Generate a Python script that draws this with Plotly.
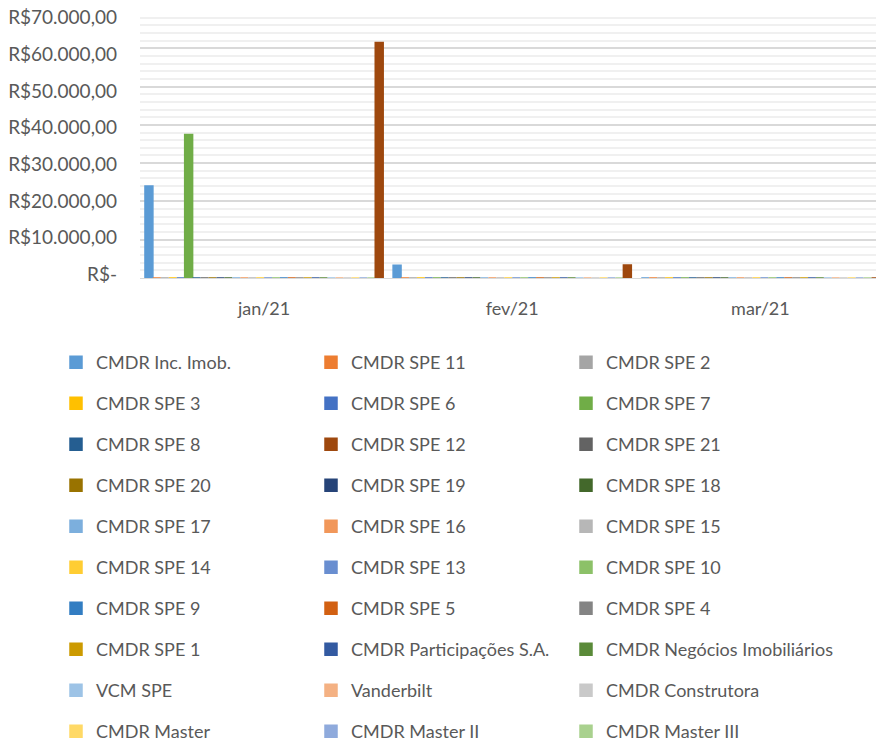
import plotly.graph_objects as go

months = ["jan/21", "fev/21", "mar/21"]

series_names = [
    "CMDR Inc. Imob.", "CMDR SPE 11", "CMDR SPE 2",
    "CMDR SPE 3", "CMDR SPE 6", "CMDR SPE 7",
    "CMDR SPE 8", "CMDR SPE 12", "CMDR SPE 21",
    "CMDR SPE 20", "CMDR SPE 19", "CMDR SPE 18",
    "CMDR SPE 17", "CMDR SPE 16", "CMDR SPE 15",
    "CMDR SPE 14", "CMDR SPE 13", "CMDR SPE 10",
    "CMDR SPE 9", "CMDR SPE 5", "CMDR SPE 4",
    "CMDR SPE 1", "CMDR Participações S.A.", "CMDR Negócios Imobiliários",
    "VCM SPE", "Vanderbilt", "CMDR Construtora",
    "CMDR Master", "CMDR Master II", "CMDR Master III",
]

# values (R$), per month
inc_imob = [24000, 3300, 0]
spe_7 = [37500, 0, 0]
spe_12 = [61500, 3400, 0]
zero_series = [0, 0, 0]

series_values = {name: zero_series for name in series_names}
series_values["CMDR Inc. Imob."] = inc_imob
series_values["CMDR SPE 7"] = spe_7
series_values["CMDR SPE 12"] = spe_12

colors = [
    "#5B9BD5", "#ED7D31", "#A5A5A5", "#FFC000", "#4472C4", "#70AD47",
    "#255E91", "#9E480E", "#636363", "#997300", "#264478", "#43682B",
    "#7CAFDD", "#F1975A", "#B7B7B7", "#FFCD33", "#698ED0", "#8CC168",
    "#327DC2", "#D26012", "#848484", "#CC9A00", "#335AA1", "#5A8A39",
    "#9DC3E6", "#F4B183", "#C9C9C9", "#FFD966", "#8FAADC", "#A9D18E",
]

y_tickvals = [0, 10000, 20000, 30000, 40000, 50000, 60000, 70000]
y_ticktext = ["R$-", "R$10.000,00", "R$20.000,00", "R$30.000,00",
              "R$40.000,00", "R$50.000,00", "R$60.000,00", "R$70.000,00"]

# bar drawing order in each group (SPE 12 is drawn in the last slot)
plot_order = [i for i in range(len(series_names)) if series_names[i] != "CMDR SPE 12"] + \
             [series_names.index("CMDR SPE 12")]

FONT = "Lato"
TXT = "#595959"
FS = 18

fig = go.Figure()
for i in plot_order:
    name = series_names[i]
    legend_id = ["legend", "legend2", "legend3"][i % 3]
    fig.add_trace(go.Bar(
        x=months, y=series_values[name], name=name,
        marker=dict(color=colors[i], line=dict(color=colors[i], width=1.5)),
        legend=legend_id, legendgroup=name, legendrank=i,
    ))

# empty helper trace so the label axis (y2) gets drawn
fig.add_trace(go.Scatter(x=[], y=[], yaxis="y2", showlegend=False, hoverinfo="skip"))

W, H = 876, 745
L = 140
plot_w = W - L
def px_to_paper_x(px):
    return (px - L) / plot_w

top_px, bot_px = 10, 278
plot_h = bot_px - top_px
def px_to_paper_y(py):
    return (bot_px - py) / plot_h

# value axis labels sit a little lower than the back-wall gridlines (3D look):
# label for 0 at y=282 px, label for 70000 at y=18 px
lab_top_px, lab_bot_px = 18, 282
per_px = 70000 / (lab_bot_px - lab_top_px)
label_range = [-(lab_bot_px - bot_px) * per_px, 70000 + (lab_top_px - top_px) * per_px]

legend_common = dict(
    orientation="v", traceorder="grouped", tracegroupgap=14.6,
    font=dict(family=FONT, size=FS, color=TXT),
    bgcolor="rgba(0,0,0,0)", itemwidth=30, itemclick=False,
    maxheight=600,
    yanchor="top", xanchor="left", y=px_to_paper_y(344),
)

fig.update_layout(
    width=W, height=H,
    margin=dict(l=L, r=0, t=top_px, b=H - bot_px, autoexpand=False),
    paper_bgcolor="white", plot_bgcolor="white",
    barmode="group", bargap=0.04, bargroupgap=0,
    font=dict(family=FONT, size=FS, color=TXT),
    legend=dict(legend_common, x=px_to_paper_x(56)),
    legend2=dict(legend_common, x=px_to_paper_x(311)),
    legend3=dict(legend_common, x=px_to_paper_x(566)),
    xaxis=dict(
        type="category", range=[-0.5, 2.466], automargin=False,
        showgrid=False, showline=False, zeroline=False,
        ticks="", ticklabelstandoff=18,
        tickfont=dict(family=FONT, size=FS, color=TXT),
    ),
    yaxis=dict(
        range=[0, 70000], tickvals=y_tickvals, showticklabels=False,
        automargin=False,
        showgrid=True, gridcolor="#D9D9D9", gridwidth=2,
        zeroline=True, zerolinecolor="#D9D9D9", zerolinewidth=1,
        showline=False, ticks="",
        minor=dict(dtick=2000, showgrid=True, gridcolor="#F0F0F0", gridwidth=2),
    ),
    yaxis2=dict(
        overlaying="y", side="left", range=label_range,
        tickvals=y_tickvals, ticktext=y_ticktext,
        automargin=False, showgrid=False, zeroline=False, showline=False,
        ticks="", ticklabelstandoff=22,
        tickfont=dict(family=FONT, size=19, color=TXT),
    ),
)

fig.write_html("out.html", config={"displayModeBar": False},
               post_script="document.body.style.margin='0';")
